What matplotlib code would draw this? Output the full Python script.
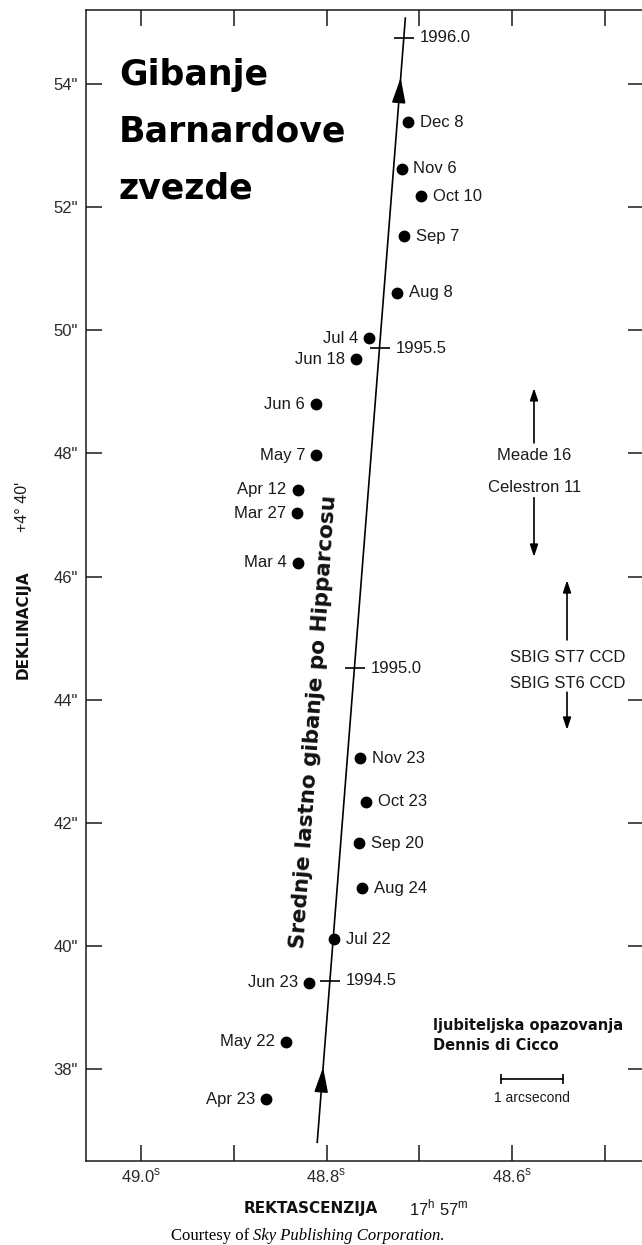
import numpy as np
import matplotlib.pyplot as plt

plt.rcParams['font.family'] = ['Liberation Sans', 'DejaVu Sans']
plt.rcParams['mathtext.fontset'] = 'custom'
plt.rcParams['mathtext.rm'] = 'Liberation Sans'

# opazanja 1994/1995: RA (sekunde, 17h 57m) i deklinacija (" iznad +4 40')
obs_labels = ['Dec 8', 'Nov 6', 'Oct 10', 'Sep 7', 'Aug 8', 'Jul 4', 'Jun 18',
              'Jun 6', 'May 7', 'Apr 12', 'Mar 27', 'Mar 4',
              'Nov 23', 'Oct 23', 'Sep 20', 'Aug 24', 'Jul 22', 'Jun 23',
              'May 22', 'Apr 23']
obs_ra = [48.712, 48.719, 48.698, 48.716, 48.724, 48.754, 48.768,
          48.811, 48.811, 48.831, 48.832, 48.831,
          48.764, 48.757, 48.765, 48.762, 48.792, 48.819,
          48.844, 48.865]
obs_dec = [53.38, 52.62, 52.18, 51.53, 50.61, 49.87, 49.53,
           48.80, 47.97, 47.41, 47.03, 46.22,
           43.05, 42.34, 41.67, 40.94, 40.11, 39.40,
           38.44, 37.51]
obs_side = ['r', 'r', 'r', 'r', 'r', 'l', 'l',
            'l', 'l', 'l', 'l', 'l',
            'r', 'r', 'r', 'r', 'r', 'l',
            'l', 'l']

# srednje gibanje po Hipparcosu
epochs = ['1994.5', '1995.0', '1995.5', '1996.0']
epoch_ra = [48.796, 48.769, 48.742, 48.716]
epoch_dec = [39.43, 44.51, 49.71, 54.75]
track_ra = [48.810, 48.715]
track_dec = [36.81, 55.07]
arrow_dec = [38.03, 54.10]

xticks = [49.0, 48.9, 48.8, 48.7, 48.6, 48.5]
xticklabels = [r'49.0$^{\mathrm{s}}$', '', r'48.8$^{\mathrm{s}}$', '', r'48.6$^{\mathrm{s}}$', '']
yticks = [38, 40, 42, 44, 46, 48, 50, 52, 54]
yticklabels = ['38"', '40"', '42"', '44"', '46"', '48"', '50"', '52"', '54"']

W, H = 642, 1245
fig = plt.figure(figsize=(W / 100, H / 100), dpi=100)
ax = fig.add_axes([86 / W, 1 - 1161 / H, (644 - 86) / W, (1161 - 9.5) / H])

txt = '#1a1a1a'

ax.plot(track_ra, track_dec, color='black', lw=1.2)
for d in arrow_dec:
    r1 = np.interp(d, track_dec, track_ra)
    r0 = np.interp(d - 0.3, track_dec, track_ra)
    ax.annotate('', xy=(r1, d), xytext=(r0, d - 0.3),
                arrowprops=dict(arrowstyle='-|>,head_length=1.1,head_width=0.3',
                                mutation_scale=14, color='black', lw=1.2,
                                shrinkA=0, shrinkB=0))

ax.plot(epoch_ra, epoch_dec, '_', ms=14, mew=1.2, color='black')
for lab, r, d in zip(epochs, epoch_ra, epoch_dec):
    ax.annotate(lab, (r, d), xytext=(11, 0), textcoords='offset points',
                ha='left', va='center', fontsize=12, color=txt)

ax.plot(obs_ra, obs_dec, 'o', ms=7.5, color='black')
for lab, r, d, s in zip(obs_labels, obs_ra, obs_dec, obs_side):
    off = 8.5 if s == 'r' else -8
    ax.annotate(lab, (r, d), xytext=(off, 0), textcoords='offset points',
                ha='left' if s == 'r' else 'right', va='center', fontsize=12, color=txt)

ax.text(48.8135, 43.64, 'Srednje lastno gibanje po Hipparcosu', rotation=86,
        rotation_mode='anchor', ha='center', va='center', fontsize=15.5,
        fontweight='bold', family='DejaVu Sans', color='#111111')

# instrumenti
arr = dict(arrowstyle='-|>,head_length=0.6,head_width=0.2', mutation_scale=12,
           color='black', lw=1.2, shrinkA=0, shrinkB=0)
ax.annotate('', xy=(48.5763, 49.06), xytext=(48.5763, 48.17), arrowprops=arr)
ax.text(48.576, 47.97, 'Meade 16', ha='center', va='center', fontsize=12, color=txt)
ax.text(48.576, 47.44, 'Celestron 11', ha='center', va='center', fontsize=12, color=txt)
ax.annotate('', xy=(48.5763, 46.32), xytext=(48.5763, 47.28), arrowprops=arr)
ax.annotate('', xy=(48.5407, 45.94), xytext=(48.5407, 44.97), arrowprops=arr)
ax.text(48.540, 44.68, 'SBIG ST7 CCD', ha='center', va='center', fontsize=12, color=txt)
ax.text(48.540, 44.27, 'SBIG ST6 CCD', ha='center', va='center', fontsize=12, color=txt)
ax.annotate('', xy=(48.5407, 43.51), xytext=(48.5407, 44.12), arrowprops=arr)

ax.text(48.685, 38.55, 'ljubiteljska opazovanja\nDennis di Cicco', ha='left', va='center',
        fontsize=10.5, fontweight='bold', family='DejaVu Sans', linespacing=1.4, color='#111111')

# mjerilo 1"
bar_ra = 48.612
bar_len = 1 / (15 * np.cos(np.radians(4 + 40 / 60)))
ax.plot([bar_ra, bar_ra - bar_len], [37.84, 37.84], color='black', lw=1.2, marker='|', ms=7, mew=1.2)
ax.text(bar_ra - bar_len / 2, 37.53, '1 arcsecond', ha='center', va='center', fontsize=10, color=txt)

ax.set_xlim(49.0593, 48.4577)
ax.set_ylim(36.506, 55.21)
ax.set_xticks(xticks)
ax.set_xticklabels(xticklabels)
ax.set_yticks(yticks)
ax.set_yticklabels(yticklabels)
ax.tick_params(direction='in', length=11.5, width=1.1, top=True, right=True,
               labelsize=12, labelcolor='#2a2a2a', color='#1a1a1a')
ax.tick_params(axis='y', pad=6)
ax.tick_params(axis='x', pad=4)
for sp in ax.spines.values():
    sp.set_linewidth(1.1)
    sp.set_color('#1a1a1a')

fig.text(119 / W, 1 - 132 / H, 'Gibanje\nBarnardove\nzvezde', ha='left', va='center',
         fontsize=25, fontweight='bold', family='DejaVu Sans', linespacing=1.85, color='black')

fig.text(23 / W, 1 - 625 / H, 'DEKLINACIJA', rotation=90, ha='center', va='center',
         fontsize=11, fontweight='bold', family='DejaVu Sans', color='#111111')
fig.text(23 / W, 1 - 507 / H, "+4° 40'", rotation=90, ha='center', va='center',
         fontsize=11.5, color=txt)

fig.text(311 / W, 1 - 1208 / H, 'REKTASCENZIJA', ha='center', va='center',
         fontsize=11, fontweight='bold', family='DejaVu Sans', color='#111111')
fig.text(439 / W, 1 - 1208 / H, r'17$^{\mathrm{h}}$ 57$^{\mathrm{m}}$', ha='center', va='center',
         fontsize=12, color=txt)

fig.text(253 / W, 1 - 1236 / H, 'Courtesy of ', ha='right', va='center',
         fontsize=12, family='Liberation Serif', color='black')
fig.text(253 / W, 1 - 1236 / H, 'Sky Publishing Corporation.', ha='left', va='center',
         fontsize=12, family='Liberation Serif', style='italic', color='black')

fig.savefig('out.png', dpi=100)
